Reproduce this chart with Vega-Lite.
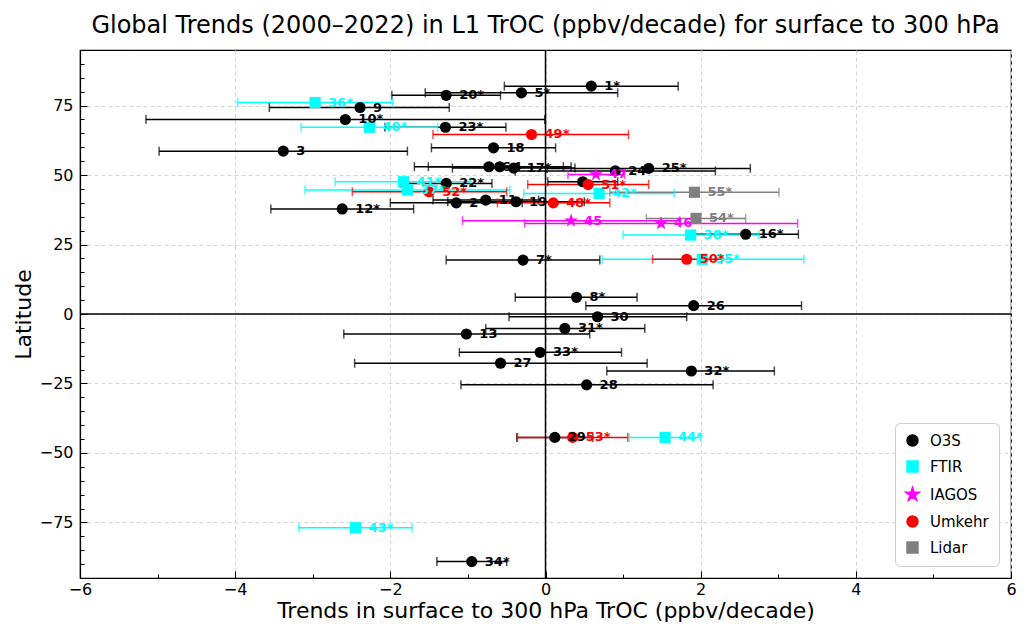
{
  "$schema": "https://vega.github.io/schema/vega-lite/v6.json",
  "width": 931,
  "height": 528,
  "autosize": {"type": "none"},
  "padding": {"left": 80, "top": 50, "right": 18, "bottom": 46},
  "config": {
    "font": "DejaVu Sans",
    "view": {"stroke": "black", "strokeWidth": 1.2},
    "legend": {
      "orient": "bottom-right", "offset": 12, "padding": 10, "strokeColor": "#cccccc",
      "cornerRadius": 5, "fillColor": "white", "labelFontSize": 15, "labelColor": "black",
      "symbolSize": 120, "rowPadding": 9, "labelOffset": 10, "symbolOpacity": 1,
      "titleOrient": "right", "titleFontSize": 15, "titlePadding": 0
    }
  },
  "title": {"text": "Global Trends (2000–2022) in L1 TrOC (ppbv/decade) for surface to 300 hPa", "fontSize": 24, "fontWeight": "normal", "color": "black", "offset": 4, "anchor": "middle"},
  "data": {"values": [
    {"id": "1*", "inst": "O3S", "x": 0.59, "lat": 82.0, "lo": -0.53, "hi": 1.71},
    {"id": "2*", "inst": "O3S", "x": -1.15, "lat": 40.0, "lo": -2.0, "hi": -0.30},
    {"id": "3", "inst": "O3S", "x": -3.38, "lat": 58.6, "lo": -4.98, "hi": -1.78},
    {"id": "4", "inst": "O3S", "x": -0.59, "lat": 53.0, "lo": -1.51, "hi": 0.33},
    {"id": "5*", "inst": "O3S", "x": -0.31, "lat": 79.6, "lo": -1.55, "hi": 0.93},
    {"id": "6", "inst": "O3S", "x": -0.73, "lat": 53.0, "lo": -1.69, "hi": 0.23},
    {"id": "7*", "inst": "O3S", "x": -0.29, "lat": 19.4, "lo": -1.28, "hi": 0.70},
    {"id": "8*", "inst": "O3S", "x": 0.40, "lat": 6.0, "lo": -0.39, "hi": 1.18},
    {"id": "9", "inst": "O3S", "x": -2.39, "lat": 74.3, "lo": -3.56, "hi": -1.24},
    {"id": "10*", "inst": "O3S", "x": -2.58, "lat": 70.0, "lo": -5.15, "hi": -0.01},
    {"id": "11", "inst": "O3S", "x": -0.77, "lat": 41.0, "lo": -1.45, "hi": -0.09},
    {"id": "12*", "inst": "O3S", "x": -2.62, "lat": 37.8, "lo": -3.54, "hi": -1.70},
    {"id": "13", "inst": "O3S", "x": -1.02, "lat": -7.2, "lo": -2.60, "hi": 0.57},
    {"id": "", "inst": "O3S", "x": 0.48, "lat": 47.6, "lo": 0.03, "hi": 0.93},
    {"id": "16*", "inst": "O3S", "x": 2.58, "lat": 28.7, "lo": 1.90, "hi": 3.26},
    {"id": "17*", "inst": "O3S", "x": -0.41, "lat": 52.5, "lo": -1.20, "hi": 0.38},
    {"id": "18", "inst": "O3S", "x": -0.67, "lat": 59.8, "lo": -1.47, "hi": 0.13},
    {"id": "19", "inst": "O3S", "x": -0.38, "lat": 40.4, "lo": -1.26, "hi": 0.50},
    {"id": "20*", "inst": "O3S", "x": -1.28, "lat": 78.7, "lo": -1.98, "hi": -0.58},
    {"id": "22*", "inst": "O3S", "x": -1.28, "lat": 47.0, "lo": -1.87, "hi": -0.69},
    {"id": "23*", "inst": "O3S", "x": -1.29, "lat": 67.2, "lo": -2.07, "hi": -0.51},
    {"id": "24*", "inst": "O3S", "x": 0.90, "lat": 51.5, "lo": -0.39, "hi": 2.19},
    {"id": "25*", "inst": "O3S", "x": 1.33, "lat": 52.4, "lo": 0.02, "hi": 2.64},
    {"id": "26", "inst": "O3S", "x": 1.91, "lat": 3.0, "lo": 0.52, "hi": 3.30},
    {"id": "27", "inst": "O3S", "x": -0.58, "lat": -17.7, "lo": -2.46, "hi": 1.31},
    {"id": "28", "inst": "O3S", "x": 0.53, "lat": -25.5, "lo": -1.09, "hi": 2.16},
    {"id": "29", "inst": "O3S", "x": 0.12, "lat": -44.4, "lo": -0.37, "hi": 0.61},
    {"id": "30", "inst": "O3S", "x": 0.67, "lat": -1.0, "lo": -0.47, "hi": 1.82},
    {"id": "31*", "inst": "O3S", "x": 0.25, "lat": -5.2, "lo": -0.77, "hi": 1.28},
    {"id": "32*", "inst": "O3S", "x": 1.88, "lat": -20.5, "lo": 0.79, "hi": 2.95},
    {"id": "33*", "inst": "O3S", "x": -0.07, "lat": -13.8, "lo": -1.11, "hi": 0.98},
    {"id": "34*", "inst": "O3S", "x": -0.95, "lat": -89.1, "lo": -1.40, "hi": -0.50},
    {"id": "35*", "inst": "FTIR", "x": 2.02, "lat": 19.7, "lo": 0.73, "hi": 3.33},
    {"id": "36*", "inst": "FTIR", "x": -2.97, "lat": 76.1, "lo": -3.97, "hi": -1.97},
    {"id": "37*", "inst": "FTIR", "x": -1.78, "lat": 44.6, "lo": -3.10, "hi": -0.46},
    {"id": "38*", "inst": "FTIR", "x": 1.87, "lat": 28.4, "lo": 1.0, "hi": 2.75},
    {"id": "40*", "inst": "FTIR", "x": -2.27, "lat": 67.2, "lo": -3.15, "hi": -1.39},
    {"id": "41*", "inst": "FTIR", "x": -1.83, "lat": 47.6, "lo": -2.71, "hi": -0.97},
    {"id": "42*", "inst": "FTIR", "x": 0.69, "lat": 43.4, "lo": -0.28, "hi": 1.66},
    {"id": "43*", "inst": "FTIR", "x": -2.45, "lat": -76.9, "lo": -3.18, "hi": -1.72},
    {"id": "44*", "inst": "FTIR", "x": 1.54, "lat": -44.4, "lo": 1.08, "hi": 2.0},
    {"id": "45", "inst": "IAGOS", "x": 0.33, "lat": 33.6, "lo": -1.07, "hi": 1.73},
    {"id": "46", "inst": "IAGOS", "x": 1.49, "lat": 32.6, "lo": -0.27, "hi": 3.25},
    {"id": "47", "inst": "IAGOS", "x": 0.65, "lat": 50.2, "lo": 0.29, "hi": 1.02},
    {"id": "48*", "inst": "Umkehr", "x": 0.10, "lat": 40.0, "lo": -0.62, "hi": 0.83},
    {"id": "49*", "inst": "Umkehr", "x": -0.18, "lat": 64.6, "lo": -1.45, "hi": 1.07},
    {"id": "50*", "inst": "Umkehr", "x": 1.82, "lat": 19.7, "lo": 1.38, "hi": 2.27},
    {"id": "51*", "inst": "Umkehr", "x": 0.55, "lat": 46.6, "lo": -0.23, "hi": 1.33},
    {"id": "52*", "inst": "Umkehr", "x": -1.50, "lat": 44.0, "lo": -2.49, "hi": -0.50},
    {"id": "53*", "inst": "Umkehr", "x": 0.35, "lat": -44.4, "lo": -0.36, "hi": 1.06},
    {"id": "54*", "inst": "Lidar", "x": 1.94, "lat": 34.4, "lo": 1.30, "hi": 2.58},
    {"id": "55*", "inst": "Lidar", "x": 1.92, "lat": 43.8, "lo": 0.83, "hi": 3.01}
  ]},
  "encoding": {
    "y": {"field": "lat", "type": "quantitative", "scale": {"domain": [-95, 95], "nice": false, "zero": false},
      "title": "Latitude",
      "axis": {
        "values": [-95, -90, -85, -80, -75, -70, -65, -60, -55, -50, -45, -40, -35, -30, -25, -20, -15, -10, -5, 0, 5, 10, 15, 20, 25, 30, 35, 40, 45, 50, 55, 60, 65, 70, 75, 80, 85, 90, 95],
        "labelExpr": "datum.value % 25 === 0 ? format(datum.value, 'd') : ''",
        "labelOverlap": false,
        "grid": true, "gridDash": [4, 3], "gridColor": "#d5d5d5",
        "gridOpacity": {"condition": {"test": "datum.value % 25 === 0", "value": 1}, "value": 0},
        "tickSize": {"condition": {"test": "datum.value % 25 === 0", "value": -7}, "value": -4},
        "tickColor": "black", "tickWidth": 1, "domainColor": "black", "domainWidth": 1.2,
        "labelFontSize": 16, "labelColor": "black", "labelPadding": 14, "labelFlush": false,
        "titleFontSize": 22, "titleFontWeight": "normal", "titleColor": "black", "titlePadding": 4
      }},
    "color": {"field": "inst", "type": "nominal", "title": "\u00a0\u00a0\u00a0\u00a0\u00a0\u00a0\u00a0\u00a0\u00a0",
      "scale": {"domain": ["O3S", "FTIR", "IAGOS", "Umkehr", "Lidar"], "range": ["black", "cyan", "magenta", "red", "gray"]}}
  },
  "layer": [
    {
      "mark": {"type": "rule", "strokeWidth": 1.5},
      "encoding": {
        "x": {"field": "lo", "type": "quantitative", "scale": {"domain": [-6, 6], "nice": false, "zero": false},
          "title": "Trends in surface to 300 hPa TrOC (ppbv/decade)",
          "axis": {
            "values": [-6, -5.5, -5, -4.5, -4, -3.5, -3, -2.5, -2, -1.5, -1, -0.5, 0, 0.5, 1, 1.5, 2, 2.5, 3, 3.5, 4, 4.5, 5, 5.5, 6],
            "labelExpr": "datum.value % 2 === 0 ? format(datum.value, 'd') : ''",
            "labelOverlap": false,
            "grid": true, "gridDash": [4, 3], "gridColor": "#d5d5d5",
            "gridOpacity": {"condition": {"test": "datum.value % 2 === 0", "value": 1}, "value": 0},
            "tickSize": {"condition": {"test": "datum.value % 2 === 0", "value": -7}, "value": -4},
            "tickColor": "black", "tickWidth": 1, "domainColor": "black", "domainWidth": 1.2,
            "labelFontSize": 16, "labelColor": "black", "labelPadding": 10, "labelFlush": false,
            "titleFontSize": 22, "titleFontWeight": "normal", "titleColor": "black", "titlePadding": 0
          }},
        "x2": {"field": "hi"}
      }
    },
    {
      "mark": {"type": "tick", "orient": "vertical", "size": 9, "thickness": 1.5},
      "encoding": {
        "x": {"field": "lo", "type": "quantitative", "title": "Trends in surface to 300 hPa TrOC (ppbv/decade)"}
      }
    },
    {
      "mark": {"type": "tick", "orient": "vertical", "size": 9, "thickness": 1.5},
      "encoding": {
        "x": {"field": "hi", "type": "quantitative", "title": "Trends in surface to 300 hPa TrOC (ppbv/decade)"}
      }
    },
    {
      "data": {"values": [{"zero": 0}]},
      "mark": {"type": "rule", "strokeWidth": 1.5},
      "encoding": {
        "y": {"field": "zero", "type": "quantitative", "title": "Latitude"},
        "color": {"value": "black"}
      }
    },
    {
      "data": {"values": [{"zero": 0}]},
      "mark": {"type": "rule", "strokeWidth": 1.5},
      "encoding": {
        "x": {"field": "zero", "type": "quantitative", "title": "Trends in surface to 300 hPa TrOC (ppbv/decade)"},
        "y": {"value": 0},
        "y2": {"value": 528},
        "color": {"value": "black"}
      }
    },
    {
      "mark": {"type": "point", "filled": true, "opacity": 1, "size": 125},
      "encoding": {
        "x": {"field": "x", "type": "quantitative", "title": "Trends in surface to 300 hPa TrOC (ppbv/decade)"},
        "shape": {"field": "inst", "type": "nominal", "title": "\u00a0\u00a0\u00a0\u00a0\u00a0\u00a0\u00a0\u00a0\u00a0",
          "scale": {"domain": ["O3S", "FTIR", "IAGOS", "Umkehr", "Lidar"], "range": ["circle", "square", "M0,-1.3L0.29,-0.4L1.236,-0.402L0.469,0.152L0.764,1.052L0,0.494L-0.764,1.052L-0.469,0.152L-1.236,-0.402L-0.29,-0.4Z", "circle", "square"]}}
      }
    },
    {
      "mark": {"type": "text", "align": "left", "baseline": "middle", "dx": 13, "fontSize": 13, "fontWeight": "bold"},
      "encoding": {
        "x": {"field": "x", "type": "quantitative", "title": "Trends in surface to 300 hPa TrOC (ppbv/decade)"},
        "text": {"field": "id"}
      }
    }
  ]
}
